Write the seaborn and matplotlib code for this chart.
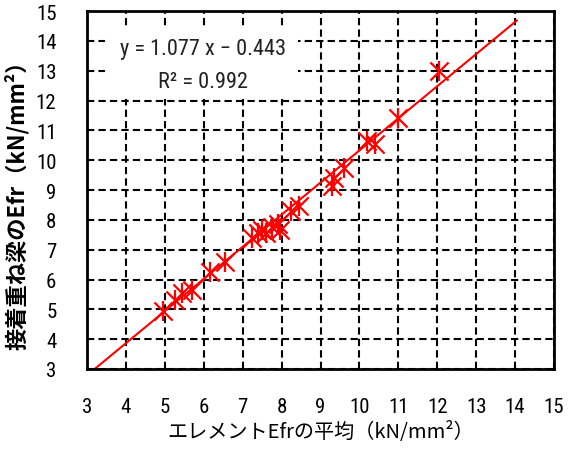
import matplotlib
matplotlib.use("Agg")
import matplotlib.pyplot as plt
import seaborn as sns
import pandas as pd
from matplotlib.patches import Rectangle
from matplotlib import font_manager

# ---- data ----
element_efr = [4.95, 5.25, 5.45, 5.70, 6.15, 6.55, 7.25, 7.40, 7.50, 7.60, 7.75,
               7.90, 7.95, 8.25, 8.45, 9.30, 9.35, 9.60, 10.20, 10.40, 11.00, 12.05]
beam_efr = [4.95, 5.30, 5.55, 5.65, 6.25, 6.60, 7.40, 7.55, 7.65, 7.55, 7.75,
            7.85, 7.65, 8.30, 8.45, 9.15, 9.40, 9.75, 10.65, 10.55, 11.40, 13.00]
slope = 1.077
intercept = -0.443
trend_x_end = 14.05
ticks = list(range(3, 16))
eq_text = "y = 1.077 x − 0.443"
r2_text = "R² = 0.992"
xlabel = "エレメントEfrの平均（kN/mm²）"
ylabel = "接着重ね梁のEfr（kN/mm²）"

sns.set_theme(style="white")

# pick a narrow Latin font if one is installed
available = {f.name for f in font_manager.fontManager.ttflist}
narrow = None
for cand in ["Liberation Sans Narrow", "Roboto Condensed", "DejaVu Sans Condensed",
             "Open Sans Condensed", "Roboto"]:
    if cand in available:
        narrow = cand
        break
fam = ([narrow] if narrow else []) + ['Noto Sans CJK JP', 'DejaVu Sans']
plt.rcParams['font.family'] = fam
cjk = ['Noto Sans CJK JP', 'DejaVu Sans']

df = pd.DataFrame({"x": element_efr, "y": beam_efr})
trend_x = [(3 - intercept) / slope, trend_x_end]
trend_df = pd.DataFrame({"x": trend_x, "y": [slope * v + intercept for v in trend_x]})

fig = plt.figure(figsize=(5.78, 4.56), dpi=100)
ax = fig.add_axes([0.1505, 0.1886, 0.808, 0.785])

sns.lineplot(data=trend_df, x="x", y="y", ax=ax, color="#ff0000", lw=1.5, zorder=4)
sns.scatterplot(data=df, x="x", y="y", ax=ax, marker="x", s=170, color="#ff0000",
                linewidth=1.6, zorder=5)
sns.scatterplot(data=df, x="x", y="y", ax=ax, marker="|", s=190, color="#ff0000",
                linewidth=1.6, zorder=5)

ax.set_xlim(3, 15)
ax.set_ylim(3, 15)
ax.set_xticks(ticks)
ax.set_yticks(ticks)
ax.set_xticklabels([str(t) for t in ticks])
ax.set_yticklabels([str(t) for t in ticks])
ax.tick_params(axis="both", length=0, labelsize=15, colors="black")
ax.tick_params(axis="x", pad=20)
ax.tick_params(axis="y", pad=22)

ax.grid(True, color="black", linestyle=(0, (3.5, 2)), linewidth=1.5, zorder=1)
ax.set_axisbelow(True)
for sp in ax.spines.values():
    sp.set_color("black")
    sp.set_linewidth(2)
    sp.set_zorder(6)

ax.add_patch(Rectangle((0.0385, 0.754), 0.4135, 0.204, transform=ax.transAxes,
                       facecolor="white", edgecolor="none", zorder=2))
ax.text(0.248, 0.894, eq_text, transform=ax.transAxes, ha="center", va="center",
        fontsize=16, zorder=3, color="#222222")
ax.text(0.248, 0.804, r2_text, transform=ax.transAxes, ha="center", va="center",
        fontsize=16, zorder=3, color="#222222")

ax.set_xlabel(xlabel, fontsize=14.5, labelpad=4, color="black", family=cjk)
ax.set_ylabel(ylabel, fontsize=16, fontweight="semibold", labelpad=9, color="black",
              family=cjk)
ax.yaxis.set_label_coords(-0.125, 0.475)

fig.savefig("out.png", dpi=100)
